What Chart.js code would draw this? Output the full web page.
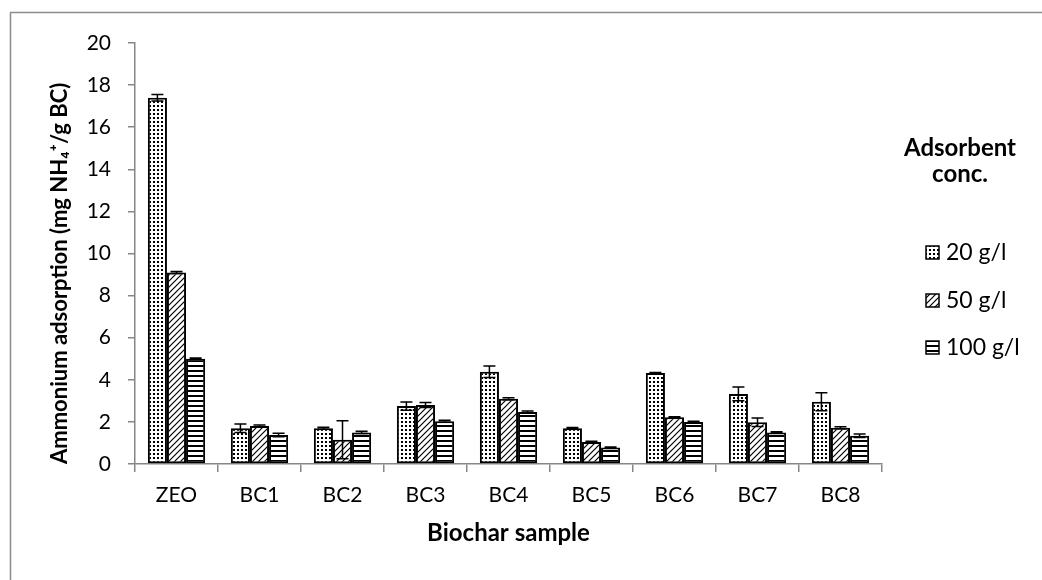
<!DOCTYPE html>
<html>
<head>
<meta charset="utf-8">
<script src="https://cdn.jsdelivr.net/npm/chart.js@4.4.1/dist/chart.umd.min.js"></script>
<style>
  body { margin: 0; background: #fff; }
</style>
</head>
<body>
<canvas id="diag-adsorption" width="1042" height="580"></canvas>
<script>
//----------------------------------donnees

const samples = ['ZEO', 'BC1', 'BC2', 'BC3', 'BC4', 'BC5', 'BC6', 'BC7', 'BC8']
const seriesNames = ['20 g/l', '50 g/l', '100 g/l']

const conc20 = [17.4, 1.7, 1.7, 2.75, 4.38, 1.7, 4.32, 3.33, 2.96]
const conc50 = [9.1, 1.8, 1.15, 2.8, 3.1, 1.05, 2.22, 1.98, 1.72]
const conc100 = [5.0, 1.38, 1.5, 2.03, 2.47, 0.78, 2.0, 1.5, 1.34]

// ecarts (barres d'erreur)
const err20 = [0.15, 0.2, 0.05, 0.2, 0.27, 0.03, 0.03, 0.33, 0.43]
const err50 = [0.05, 0.05, 0.9, 0.12, 0.05, 0.03, 0.03, 0.2, 0.05]
const err100 = [0.03, 0.08, 0.05, 0.05, 0.05, 0.03, 0.03, 0.03, 0.08]

const yTicks = [0, 2, 4, 6, 8, 10, 12, 14, 16, 18, 20]

const FONT = 'Lato, "Liberation Sans", sans-serif'
const AXIS_GREY = '#868686'

//----------------------------------motifs de remplissage

function makePattern(kind){
  const tile = document.createElement('canvas')
  const size = kind === 'diag' ? 6 : (kind === 'dots' ? 4 : 5)
  tile.width = size
  tile.height = size
  const c = tile.getContext('2d')
  c.fillStyle = '#fff'
  c.fillRect(0, 0, size, size)
  c.fillStyle = '#000'
  c.strokeStyle = '#000'
  if(kind === 'dots'){
    c.fillRect(1, 1, 2, 2)
  } else if(kind === 'diag'){
    c.lineWidth = 1.2
    c.beginPath()
    c.moveTo(-1, size + 1); c.lineTo(size + 1, -1)
    c.moveTo(-1, 1); c.lineTo(1, -1)
    c.moveTo(size - 1, size + 1); c.lineTo(size + 1, size - 1)
    c.stroke()
  } else {
    c.fillRect(0, 0, size, 2)
  }
  return document.createElement('canvas').getContext('2d').createPattern(tile, 'repeat')
}

const patterns = [makePattern('dots'), makePattern('diag'), makePattern('lines')]
const errors = [err20, err50, err100]

//----------------------------------plugins

// cadre gris autour du graphique
const framePlugin = {
  id: 'frame',
  beforeDraw(chart){
    const ctx = chart.ctx
    ctx.save()
    ctx.fillStyle = '#fff'
    ctx.fillRect(0, 0, chart.width, chart.height)
    ctx.strokeStyle = '#8c8c8c'
    ctx.lineWidth = 1.5
    ctx.strokeRect(10.5, 12.5, 1200, 700)
    ctx.restore()
  }
}

// barres d'erreur, via les echelles du graphique
const errorBarPlugin = {
  id: 'errorBars',
  afterDatasetsDraw(chart){
    const ctx = chart.ctx
    const yScale = chart.scales.y
    ctx.save()
    ctx.strokeStyle = '#000'
    ctx.lineWidth = 1.5
    chart.data.datasets.forEach((ds, i) => {
      const meta = chart.getDatasetMeta(i)
      meta.data.forEach((bar, j) => {
        const v = ds.data[j]
        const e = errors[i][j]
        const yTop = yScale.getPixelForValue(v + e)
        const yBot = yScale.getPixelForValue(Math.max(0, v - e))
        ctx.beginPath()
        ctx.moveTo(bar.x, yTop); ctx.lineTo(bar.x, yBot)
        ctx.moveTo(bar.x - 6, yTop); ctx.lineTo(bar.x + 6, yTop)
        ctx.moveTo(bar.x - 6, yBot); ctx.lineTo(bar.x + 6, yBot)
        ctx.stroke()
      })
    })
    ctx.restore()
  }
}

// legende a droite avec titre sur deux lignes
const legendPlugin = {
  id: 'sideLegend',
  afterDraw(chart){
    const ctx = chart.ctx
    ctx.save()
    ctx.fillStyle = '#000'
    ctx.textBaseline = 'middle'
    ctx.textAlign = 'center'
    ctx.font = 'bold 24px ' + FONT
    ctx.fillText('Adsorbent', 960, 148)
    ctx.fillText('conc.', 960, 174)

    ctx.textAlign = 'left'
    ctx.font = '23px ' + FONT
    const rows = [252, 300, 347]
    seriesNames.forEach((name, i) => {
      ctx.fillStyle = patterns[i]
      ctx.fillRect(926, rows[i] - 6, 13, 13)
      ctx.strokeStyle = '#000'
      ctx.lineWidth = 1.5
      ctx.strokeRect(926, rows[i] - 6, 13, 13)
      ctx.fillStyle = '#000'
      ctx.fillText(name, 946, rows[i] + 1)
    })
    ctx.restore()
  }
}

//----------------------------------diagramme

const canvas = document.getElementById('diag-adsorption')

const values = [conc20, conc50, conc100]

new Chart(canvas, {
  type: 'bar',
  data: {
    labels: samples,
    datasets: seriesNames.map((name, i) => ({
      label: name,
      data: values[i],
      backgroundColor: patterns[i],
      borderColor: '#000',
      borderWidth: 2,
      borderSkipped: false,
      categoryPercentage: 0.69,
      barPercentage: 1
    }))
  },
  options: {
    responsive: false,
    animation: false,
    devicePixelRatio: 1,
    layout: { padding: { left: 47, top: 43, right: 160, bottom: 32 } },
    plugins: {
      legend: { display: false },
      tooltip: { enabled: false }
    },
    scales: {
      x: {
        grid: {
          offset: true,
          drawOnChartArea: false,
          drawTicks: true,
          tickLength: 8,
          color: AXIS_GREY,
          lineWidth: 1.5
        },
        border: { color: AXIS_GREY, width: 1.5 },
        ticks: { color: '#000', font: { family: FONT, size: 21 }, padding: 11 },
        title: {
          display: true,
          text: 'Biochar sample',
          color: '#000',
          font: { family: FONT, size: 24, weight: 'bold' },
          padding: { top: 0, bottom: 0 }
        },
        afterFit(scale){ scale.height = 84 }
      },
      y: {
        min: 0,
        max: 20,
        afterBuildTicks(scale){ scale.ticks = yTicks.map(v => ({ value: v })) },
        grid: {
          drawOnChartArea: false,
          drawTicks: true,
          tickLength: 7,
          color: AXIS_GREY,
          lineWidth: 1.5
        },
        border: { color: AXIS_GREY, width: 1.5 },
        ticks: { color: '#000', font: { family: FONT, size: 21 }, padding: 17 },
        title: {
          display: true,
          align: 'start',
          text: 'Ammonium adsorption (mg NH\u2084\u207A/g BC)',
          color: '#000',
          font: { family: FONT, size: 22, weight: 'bold' },
          padding: { top: 0, bottom: 0 }
        },
        afterFit(scale){ scale.width = 88 }
      }
    }
  },
  plugins: [framePlugin, errorBarPlugin, legendPlugin]
});
</script>
</body>
</html>
